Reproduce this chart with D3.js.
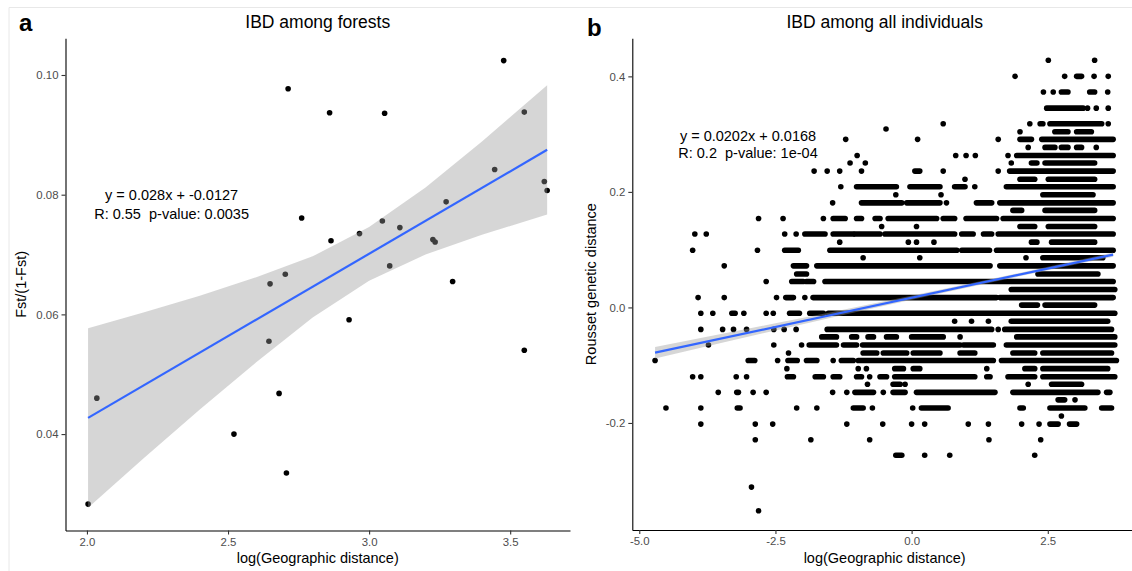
<!DOCTYPE html>
<html>
<head>
<meta charset="utf-8">
<script src="https://cdn.jsdelivr.net/npm/d3@7"></script>
<style>
  body { margin: 0; background: #fff; }
  text { font-family: "Liberation Sans", Arial, sans-serif; white-space: pre; }
</style>
</head>
<body>
<svg id="chart" width="1132" height="571"></svg>
<script>
// ---- panel a: IBD among forests ----
const forestX = [2.713, 2.860, 3.055, 3.477, 3.550, 3.445, 3.621, 3.631, 3.273, 2.761,
                 3.047, 3.109, 2.966, 2.865, 3.226, 3.234, 3.073, 2.703, 2.649, 3.296,
                 2.929, 2.645, 3.550, 2.035, 2.681, 2.521, 2.707, 2.004];
const forestY = [0.0977, 0.0937, 0.0936, 0.1024, 0.0938, 0.0842, 0.0822, 0.0807, 0.0788, 0.0761,
                 0.0756, 0.0745, 0.0735, 0.0723, 0.0725, 0.0721, 0.0681, 0.0667, 0.0651, 0.0655,
                 0.0591, 0.0555, 0.0540, 0.0460, 0.0468, 0.0400, 0.0335, 0.0283];
const fitAX = [2.004, 3.631];
const fitAY = [0.0427, 0.0875];
const bandAX    = [2.004, 2.2, 2.4, 2.6, 2.8, 3.0, 3.2, 3.4, 3.631];
const bandALow  = [0.0277, 0.0359, 0.0441, 0.0520, 0.0595, 0.0656, 0.0700, 0.0733, 0.0767];
const bandAHigh = [0.0577, 0.0603, 0.0631, 0.0662, 0.0697, 0.0746, 0.0812, 0.0889, 0.0983];
const xTicksA = [2.0, 2.5, 3.0, 3.5];
const yTicksA = [0.04, 0.06, 0.08, 0.10];
const eqA = ["y = 0.028x + -0.0127", "R: 0.55  p-value: 0.0035"];

// ---- panel b: IBD among all individuals ----
// each level holds the points seen on that row; [x0, x1] is a run of overlapping points
const bLevels = [0.428, 0.400, 0.373, 0.345, 0.318, 0.309, 0.304, 0.291, 0.277, 0.263,
                 0.250, 0.236, 0.222, 0.209, 0.195, 0.181, 0.168, 0.154, 0.140, 0.127,
                 0.113, 0.099, 0.086, 0.072, 0.058, 0.045, 0.031, 0.017, 0.004, -0.010,
                 -0.024, -0.038, -0.051, -0.065, -0.079, -0.092, -0.106, -0.120, -0.133, -0.147,
                 -0.160, -0.174, -0.188, -0.202, -0.229, -0.256, -0.311, -0.352];
const bRuns = [
  [2.51, 3.36],
  [1.90, 2.81, [3.03, 3.12], 3.35, 3.61],
  [2.42, 2.60, [2.75, 2.87], [3.27, 3.36], 3.60],
  [[2.48, 3.15], 3.23, 3.39, 3.61],
  [0.58, 2.17, [2.36, 2.41], [2.54, 3.49], 3.61],
  [-0.47],
  [1.99, [2.63, 2.87], [3.03, 3.30]],
  [-1.21, 0.11, 1.59, [1.99, 2.20], [2.39, 3.70]],
  [2.14, [2.45, 2.63], [2.75, 2.87], [3.03, 3.12], 3.39],
  [-1.0, 0.81, 1.0, 1.17, 1.77, [1.93, 3.70]],
  [-1.13, -0.85, 1.83, [2.20, 2.30], [2.45, 3.36]],
  [-1.79, -1.55, -1.32, -0.92, [0.06, 0.15], 0.58, 1.59, [1.80, 3.70]],
  [0.98, [1.99, 2.26], [2.51, 3.36]],
  [-1.30, [-1.01, -0.28], [-0.03, 0.52], [0.79, 0.98], 1.16, [1.74, 3.70]],
  [-0.29, 0.54, [2.41, 3.33]],
  [-1.45, [-0.92, -0.18], [-0.09, 0.52], 0.64, [1.19, 1.47], [1.62, 3.70]],
  [[1.86, 2.02], [2.45, 3.36]],
  [-2.81, -2.36, -1.62, [-1.44, -1.22], [-1.01, -0.92], [-0.67, -0.58], [-0.43, 0.46], [0.58, 0.79], [1.0, 1.56], [1.68, 3.70]],
  [-0.55, 0.09, [1.99, 2.26], [2.51, 3.36]],
  [-3.98, -3.77, -2.33, -2.12, [-1.96, -1.59], [-1.44, -1.07], [-1.04, -0.58], [-0.49, 0.79], [0.92, 1.13], [1.32, 1.47], [1.59, 3.70]],
  [-1.32, -0.06, 0.09, 0.41, [2.20, 2.30], [2.57, 3.36]],
  [-4.02, -2.83, [-2.33, -2.08], [-1.50, 0.83], [0.92, 1.43], [1.56, 3.70]],
  [-0.89, 0.15, 2.10, [2.41, 3.51]],
  [-3.44, [-2.17, -1.93], [-1.74, 1.44], [1.62, 3.70]],
  [[-2.11, -1.93], [2.32, 3.42]],
  [-2.67, [-2.20, -1.99], [-1.93, -1.80], [-1.59, 3.70]],
  [[1.83, 3.73]],
  [-3.92, -3.44, -2.48, [-2.31, -2.17], -1.96, [-1.81, 1.56], [1.62, 3.70]],
  [[2.02, 2.31], [2.45, 3.36]],
  [-3.87, -3.65, [-3.30, -3.24], -3.08, -2.67, -2.54, [-2.24, -2.06], [-1.87, -1.62], [-1.53, 3.73]],
  [0.79, 1.10, 1.41, [1.83, 3.60]],
  [-3.87, -3.47, -3.27, -3.03, -2.53, -2.34, -2.12, [-1.55, 1.47], 1.59, [1.71, 3.67]],
  [[-1.65, -1.38], [-1.10, -1.01], [-0.80, -0.70], [-0.46, -0.28], [0.0, 0.58], 0.89, [1.93, 3.73]],
  [-3.73, -2.53, -2.02, [-1.88, -1.38], [-1.25, -1.01], [-0.90, 0.89], [0.95, 1.50], [1.74, 3.73]],
  [-2.26, [-0.89, -0.64], [-0.52, -0.09], [0.03, 0.52], [0.89, 1.16], [1.86, 2.26], [2.41, 3.67]],
  [-4.71, [-3.0, -2.88], -2.46, [-2.27, -2.10], [-1.93, -1.74], -1.44, [-1.29, -1.07], [-0.98, 1.50], [1.65, 3.76]],
  [-2.29, -0.98, -0.83, [-0.31, -0.15], [0.03, 0.15], 1.38, [2.08, 2.26], [2.41, 3.60]],
  [-4.02, -3.87, -3.22, -3.03, [-2.28, -2.17], [-1.77, -1.62], [-1.44, -1.32], [-1.01, -0.92], -0.77, [-0.58, -0.46], [-0.31, 1.16], [1.38, 1.44], [1.77, 2.26], [2.41, 3.73]],
  [-0.81, [-0.34, -0.21], -0.12, 2.14, [2.57, 3.12]],
  [-3.55, [-3.21, -3.18], -2.91, -2.67, -1.45, -1.19, [-1.04, -0.70], -0.52, [-0.34, -0.12], [0.09, 1.53], [1.86, 3.42], [3.58, 3.64]],
  [[2.69, 2.81], 3.0],
  [-4.51, -3.87, [-3.20, -3.15], -2.11, -1.74, [-1.07, -0.89], -0.72, 0.02, [0.18, 0.67], [1.99, 2.05], [2.54, 3.18], [3.49, 3.67]],
  [2.75],
  [-3.87, -2.87, -2.55, -1.19, -0.53, 0.0, 0.24, 1.04, 1.41, 2.02, 2.34, [2.54, 2.69], [2.90, 3.03]],
  [-2.87, -1.85, -0.77, 1.42, 2.37],
  [[-0.29, -0.18], 0.24, 0.70, 2.26],
  [-2.94],
  [-2.81]
];
const fitBX = [-4.71, 3.70];
const fitBY = [-0.0783, 0.0915];
const bandBX    = [-4.71, -3.5, -2.5, -1.5, -0.5, 0.5, 1.5, 2.5, 3.70];
const bandBLow  = [-0.0883, -0.0617, -0.0399, -0.0183, 0.0029, 0.0237, 0.0442, 0.0643, 0.0879];
const bandBHigh = [-0.0683, -0.0461, -0.0275, -0.0087, 0.0105, 0.0301, 0.0500, 0.0703, 0.0951];
const xTicksB = [-5.0, -2.5, 0.0, 2.5];
const yTicksB = [-0.2, 0.0, 0.2, 0.4];
const eqB = ["y = 0.0202x + 0.0168", "R: 0.2  p-value: 1e-04"];

const svg = d3.select('#chart');

// faint figure frame
svg.append('line').attr('x1', 9).attr('x2', 1132).attr('y1', 7.5).attr('y2', 7.5)
  .attr('stroke', '#e8e8e8').attr('stroke-width', 1);
svg.append('line').attr('x1', 9).attr('x2', 9).attr('y1', 7.5).attr('y2', 571)
  .attr('stroke', '#e8e8e8').attr('stroke-width', 1);

function drawAxes(g, x, y, xt, yt, xfmt, yfmt) {
  const ax = g.append('g')
    .attr('transform', `translate(0,${y.range()[0]})`)
    .call(d3.axisBottom(x).tickValues(xt).tickFormat(xfmt).tickSize(4).tickSizeOuter(0).tickPadding(3));
  const ay = g.append('g')
    .attr('transform', `translate(${x.range()[0]},0)`)
    .call(d3.axisLeft(y).tickValues(yt).tickFormat(yfmt).tickSize(4).tickSizeOuter(0).tickPadding(3));
  [ax, ay].forEach(a => {
    a.select('.domain').attr('stroke', '#000').attr('stroke-width', 1.1);
    a.selectAll('.tick line').attr('stroke', '#333').attr('stroke-width', 1.1);
    a.selectAll('.tick text').attr('fill', '#4d4d4d').attr('font-size', '11.4px')
      .attr('font-family', '"Liberation Sans", Arial, sans-serif');
  });
}

function drawFit(g, x, y, bx, blo, bhi, fx, fy) {
  const band = bx.map((d, i) => ({ x: d, lo: blo[i], hi: bhi[i] }));
  g.append('path')
    .datum(band)
    .attr('d', d3.area().x(d => x(d.x)).y0(d => y(d.lo)).y1(d => y(d.hi)))
    .attr('fill', '#999999').attr('fill-opacity', 0.4);
  g.append('path')
    .datum(fx.map((d, i) => [d, fy[i]]))
    .attr('d', d3.line().x(d => x(d[0])).y(d => y(d[1])))
    .attr('stroke', '#3366ff').attr('stroke-width', 2.2).attr('fill', 'none');
}

function drawText(g, cx, base, lines, size) {
  lines.forEach((t, i) => g.append('text')
    .attr('x', cx).attr('y', base + i * 18.5)
    .attr('text-anchor', 'middle').attr('font-size', size).attr('fill', '#000')
    .attr('xml:space', 'preserve').text(t));
}

// ---- panel a ----
const xA = d3.scaleLinear().domain([1.924, 3.712]).range([65.5, 570]);
const yA = d3.scaleLinear().domain([0.02389, 0.10613]).range([530.5, 38.3]);
const gA = svg.append('g');

gA.selectAll('circle.pt')
  .data(forestX.map((d, i) => [d, forestY[i]]))
  .enter().append('circle')
  .attr('class', 'pt')
  .attr('cx', d => xA(d[0])).attr('cy', d => yA(d[1]))
  .attr('r', 2.8).attr('fill', '#000');

drawFit(gA, xA, yA, bandAX, bandALow, bandAHigh, fitAX, fitAY);
drawAxes(gA, xA, yA, xTicksA, yTicksA, d => d.toFixed(1), d => d.toFixed(2));
drawText(gA, xA(2.3), 200, eqA, '14.5px');

gA.append('text').attr('x', (65.5 + 570) / 2).attr('y', 27.5)
  .attr('text-anchor', 'middle').attr('font-size', '17.5px').text('IBD among forests');
gA.append('text').attr('x', (65.5 + 570) / 2).attr('y', 563)
  .attr('text-anchor', 'middle').attr('font-size', '14.5px').text('log(Geographic distance)');
gA.append('text').attr('transform', `translate(25.7,${(38.3 + 530.5) / 2}) rotate(-90)`)
  .attr('text-anchor', 'middle').attr('font-size', '14.5px').text('Fst/(1-Fst)');
gA.append('text').attr('x', 19).attr('y', 31)
  .attr('font-size', '24px').attr('font-weight', 'bold').text('a');

// ---- panel b ----
const xB = d3.scaleLinear().domain([-5.128, 4.138]).range([632.3, 1137]);
const yB = d3.scaleLinear().domain([-0.3853, 0.4659]).range([530, 38.3]);
const gB = svg.append('g');

const runs = [];
bLevels.forEach((lv, i) => bRuns[i].forEach(r => {
  if (Array.isArray(r)) runs.push({ y: lv, x0: r[0], x1: r[1] });
  else runs.push({ y: lv, x0: r, x1: r });
}));

gB.selectAll('line.run')
  .data(runs.filter(d => d.x1 > d.x0))
  .enter().append('line')
  .attr('class', 'run')
  .attr('x1', d => xB(d.x0)).attr('x2', d => xB(d.x1))
  .attr('y1', d => yB(d.y)).attr('y2', d => yB(d.y))
  .attr('stroke', '#000').attr('stroke-width', 5.6).attr('stroke-linecap', 'round');

gB.selectAll('circle.pt')
  .data(runs.filter(d => d.x1 === d.x0))
  .enter().append('circle')
  .attr('class', 'pt')
  .attr('cx', d => xB(d.x0)).attr('cy', d => yB(d.y))
  .attr('r', 2.8).attr('fill', '#000');

drawFit(gB, xB, yB, bandBX, bandBLow, bandBHigh, fitBX, fitBY);
drawAxes(gB, xB, yB, xTicksB, yTicksB, d => d.toFixed(1), d => d.toFixed(1));
drawText(gB, 748, 140.5, eqB.slice(0, 1), '14.5px');
drawText(gB, 748, 157.5, eqB.slice(1), '14.5px');

gB.append('text').attr('x', (632.3 + 1137) / 2).attr('y', 27.5)
  .attr('text-anchor', 'middle').attr('font-size', '17.5px').text('IBD among all individuals');
gB.append('text').attr('x', (632.3 + 1137) / 2).attr('y', 563)
  .attr('text-anchor', 'middle').attr('font-size', '14.5px').text('log(Geographic distance)');
gB.append('text').attr('transform', `translate(595.5,${(38.3 + 530) / 2}) rotate(-90)`)
  .attr('text-anchor', 'middle').attr('font-size', '14.5px').text('Rousset genetic distance');
gB.append('text').attr('x', 587).attr('y', 36)
  .attr('font-size', '24px').attr('font-weight', 'bold').text('b');
</script>
</body>
</html>
